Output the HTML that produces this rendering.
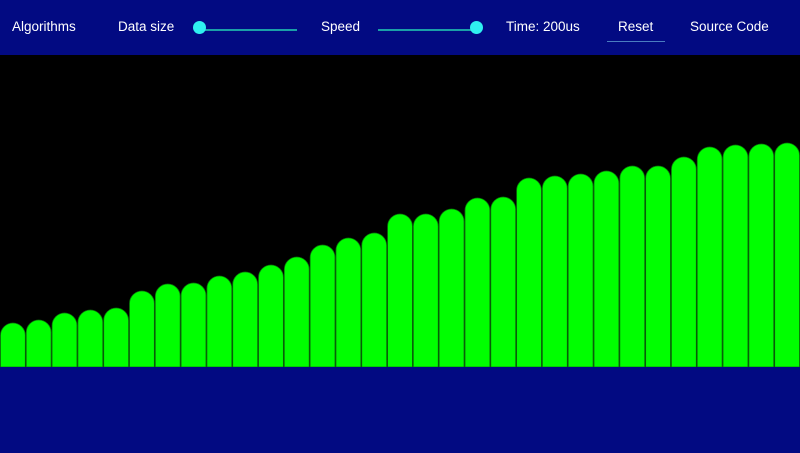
<!DOCTYPE html>
<html><head><meta charset="utf-8"><style>
html,body{margin:0;padding:0;width:800px;height:453px;overflow:hidden;background:#020a82;font-family:"Liberation Sans",sans-serif}
#hdr{position:absolute;left:0;top:0;width:800px;height:55px;background:#020a82;color:#fff;font-size:13.5px}
.t{position:absolute;top:19px;white-space:nowrap}
.track{position:absolute;top:29px;height:2px;background:#1aa0a8}
.knob{position:absolute;top:21px;width:13px;height:13px;border-radius:50%;background:#2ff0f0}
#chart{position:absolute;left:0;top:55px;width:800px;height:312px;background:#000}
</style></head><body>
<div id="hdr">
<span class="t" style="left:12px">Algorithms</span>
<span class="t" style="left:118px">Data size</span>
<div class="track" style="left:200px;width:97px"></div>
<div class="knob" style="left:193px"></div>
<span class="t" style="left:321px">Speed</span>
<div class="track" style="left:378px;width:98px"></div>
<div class="knob" style="left:470px"></div>
<span class="t" style="left:506px">Time: 200us</span>
<span class="t" style="left:618px">Reset</span>
<div style="position:absolute;left:607px;top:41px;width:58px;height:1px;background:#4a7cc0"></div>
<span class="t" style="left:690px">Source Code</span>
</div>
<svg id="chart" width="800" height="312"></svg>
<script>
const categories = Array.from({length:31},(_, i)=>'item'+(i+1));
const values = [44,47,54,57,59,76,83,84,91,95,102,110,122,129,134,153,153,158,169,170,189,191,193,196,201,201,210,220,222,223,224];
const yMax = 312;
const svg = document.getElementById('chart');
const W = 800, H = 312;
const bw = W / categories.length;
const x = i => i * bw;
const y = v => H - v / yMax * H;
const NS = 'http://www.w3.org/2000/svg';
values.forEach((v, i) => {
  const x0 = x(i) + 0.5, w = bw - 1, r = w / 2, top = y(v);
  const p = document.createElementNS(NS, 'path');
  p.setAttribute('d', `M${x0},${H} L${x0},${top + r} A${r},${r} 0 0 1 ${x0 + w},${top + r} L${x0 + w},${H} Z`);
  p.setAttribute('fill', '#00ff00');
  p.setAttribute('stroke', '#0a7a0a');
  p.setAttribute('stroke-width', '0.8');
  
  
  svg.appendChild(p);
});
</script>
</body></html>
